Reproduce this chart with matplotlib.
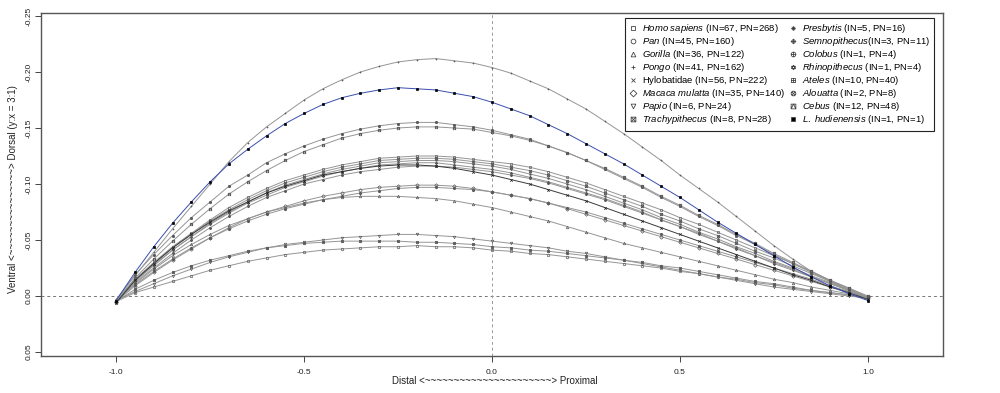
import numpy as np
import matplotlib
matplotlib.use('Agg')
import matplotlib.pyplot as plt
from matplotlib.path import Path
from matplotlib.lines import Line2D

plt.rcParams['font.family'] = ['Liberation Sans', 'DejaVu Sans']
plt.rcParams['mathtext.fontset'] = 'custom'
plt.rcParams['mathtext.rm'] = 'Liberation Sans'
plt.rcParams['mathtext.it'] = 'Liberation Sans:italic'

# landmark positions along the bone (distal -> proximal)
xs = [-1.0, -0.95, -0.9, -0.85, -0.8, -0.75, -0.7, -0.65, -0.6, -0.55,
      -0.5, -0.45, -0.4, -0.35, -0.3, -0.25, -0.2, -0.15, -0.1, -0.05,
      0.0, 0.05, 0.1, 0.15, 0.2, 0.25, 0.3, 0.35, 0.4, 0.45,
      0.5, 0.55, 0.6, 0.65, 0.7, 0.75, 0.8, 0.85, 0.9, 0.95, 1.0]

# mean curvature profiles
homo = [0.004, -0.015, -0.030, -0.044, -0.056, -0.068, -0.079, -0.088, -0.096, -0.103,
        -0.108, -0.113, -0.117, -0.120, -0.123, -0.124, -0.125, -0.125, -0.124, -0.122,
        -0.120, -0.118, -0.115, -0.111, -0.106, -0.101, -0.095, -0.089, -0.083, -0.077,
        -0.070, -0.064, -0.057, -0.050, -0.043, -0.036, -0.029, -0.022, -0.014, -0.007, 0.001]
pan = [0.005, -0.003, -0.008, -0.013, -0.018, -0.023, -0.027, -0.031, -0.034, -0.037,
       -0.039, -0.041, -0.042, -0.043, -0.044, -0.044, -0.045, -0.044, -0.044, -0.043,
       -0.041, -0.040, -0.038, -0.037, -0.035, -0.033, -0.031, -0.029, -0.027, -0.025,
       -0.022, -0.020, -0.017, -0.015, -0.012, -0.010, -0.007, -0.005, -0.003, -0.001, 0.002]
gorilla = [0.004, -0.011, -0.024, -0.036, -0.046, -0.055, -0.063, -0.069, -0.075, -0.079,
           -0.083, -0.086, -0.088, -0.089, -0.089, -0.089, -0.088, -0.087, -0.085, -0.082,
           -0.079, -0.075, -0.071, -0.067, -0.062, -0.057, -0.052, -0.047, -0.043, -0.039,
           -0.035, -0.031, -0.027, -0.023, -0.019, -0.015, -0.012, -0.008, -0.005, -0.002, 0.002]
pongo = [0.003, -0.018, -0.039, -0.060, -0.080, -0.100, -0.120, -0.137, -0.151, -0.163,
         -0.175, -0.185, -0.193, -0.200, -0.205, -0.209, -0.211, -0.212, -0.210, -0.208,
         -0.204, -0.199, -0.192, -0.185, -0.176, -0.167, -0.156, -0.145, -0.133, -0.121,
         -0.108, -0.096, -0.084, -0.071, -0.058, -0.045, -0.033, -0.022, -0.013, -0.005, 0.001]
hylobatidae = [0.006, -0.014, -0.029, -0.043, -0.055, -0.066, -0.076, -0.084, -0.092, -0.098,
               -0.103, -0.108, -0.111, -0.114, -0.116, -0.117, -0.117, -0.116, -0.114, -0.111,
               -0.108, -0.104, -0.100, -0.095, -0.090, -0.085, -0.079, -0.073, -0.067, -0.061,
               -0.055, -0.049, -0.043, -0.037, -0.031, -0.025, -0.019, -0.014, -0.008, -0.003, 0.003]
macaca = [0.005, -0.009, -0.021, -0.032, -0.042, -0.052, -0.061, -0.069, -0.075, -0.080,
          -0.085, -0.089, -0.092, -0.095, -0.097, -0.098, -0.099, -0.099, -0.098, -0.096,
          -0.093, -0.090, -0.087, -0.083, -0.078, -0.073, -0.068, -0.063, -0.058, -0.053,
          -0.048, -0.043, -0.038, -0.033, -0.028, -0.023, -0.018, -0.013, -0.008, -0.004, 0.001]
papio = [0.004, -0.004, -0.011, -0.018, -0.024, -0.030, -0.035, -0.039, -0.043, -0.046,
         -0.048, -0.050, -0.052, -0.053, -0.054, -0.055, -0.055, -0.054, -0.053, -0.051,
         -0.049, -0.047, -0.045, -0.043, -0.040, -0.038, -0.035, -0.032, -0.029, -0.026,
         -0.023, -0.020, -0.017, -0.014, -0.011, -0.008, -0.006, -0.004, -0.002, 0.000, 0.002]
trachypithecus = [0.005, -0.014, -0.029, -0.043, -0.055, -0.067, -0.077, -0.086, -0.094, -0.101,
                  -0.106, -0.111, -0.115, -0.118, -0.121, -0.122, -0.123, -0.123, -0.122, -0.120,
                  -0.118, -0.115, -0.112, -0.108, -0.103, -0.098, -0.092, -0.086, -0.080, -0.073,
                  -0.067, -0.060, -0.054, -0.047, -0.040, -0.034, -0.027, -0.020, -0.013, -0.006, 0.002]
presbytis = [0.004, -0.013, -0.027, -0.041, -0.053, -0.065, -0.075, -0.084, -0.092, -0.099,
             -0.104, -0.109, -0.113, -0.116, -0.119, -0.120, -0.121, -0.121, -0.120, -0.118,
             -0.116, -0.113, -0.109, -0.105, -0.100, -0.095, -0.089, -0.083, -0.077, -0.070,
             -0.064, -0.057, -0.051, -0.044, -0.038, -0.031, -0.025, -0.018, -0.012, -0.005, 0.002]
semnopithecus = [0.005, -0.014, -0.028, -0.041, -0.053, -0.064, -0.074, -0.083, -0.090, -0.097,
                 -0.102, -0.107, -0.111, -0.114, -0.117, -0.118, -0.119, -0.119, -0.117, -0.115,
                 -0.113, -0.110, -0.106, -0.102, -0.097, -0.092, -0.087, -0.081, -0.075, -0.068,
                 -0.062, -0.055, -0.049, -0.042, -0.036, -0.029, -0.023, -0.017, -0.011, -0.005, 0.003]
colobus = [0.004, -0.010, -0.022, -0.033, -0.043, -0.052, -0.060, -0.067, -0.073, -0.078,
           -0.082, -0.086, -0.089, -0.092, -0.094, -0.096, -0.097, -0.097, -0.096, -0.095,
           -0.093, -0.090, -0.087, -0.083, -0.079, -0.075, -0.070, -0.065, -0.060, -0.055,
           -0.050, -0.045, -0.040, -0.035, -0.030, -0.025, -0.020, -0.015, -0.009, -0.004, 0.002]
rhinopithecus = [0.004, -0.012, -0.025, -0.038, -0.050, -0.061, -0.071, -0.080, -0.088, -0.094,
                 -0.100, -0.104, -0.108, -0.111, -0.113, -0.115, -0.116, -0.116, -0.115, -0.113,
                 -0.111, -0.108, -0.105, -0.101, -0.096, -0.091, -0.086, -0.080, -0.074, -0.068,
                 -0.062, -0.056, -0.049, -0.043, -0.036, -0.030, -0.024, -0.017, -0.011, -0.005, 0.002]
ateles = [0.004, -0.019, -0.037, -0.054, -0.070, -0.084, -0.098, -0.108, -0.119, -0.127,
          -0.134, -0.140, -0.145, -0.149, -0.152, -0.154, -0.155, -0.155, -0.153, -0.151,
          -0.148, -0.144, -0.140, -0.134, -0.128, -0.121, -0.113, -0.105, -0.097, -0.088,
          -0.080, -0.071, -0.063, -0.054, -0.046, -0.037, -0.029, -0.021, -0.013, -0.006, 0.001]
alouatta = [0.005, -0.006, -0.014, -0.021, -0.027, -0.032, -0.036, -0.040, -0.043, -0.045,
            -0.047, -0.048, -0.049, -0.049, -0.049, -0.049, -0.048, -0.048, -0.047, -0.046,
            -0.044, -0.043, -0.041, -0.040, -0.038, -0.036, -0.034, -0.032, -0.030, -0.027,
            -0.025, -0.022, -0.019, -0.016, -0.013, -0.011, -0.008, -0.005, -0.003, -0.001, 0.002]
cebus = [0.005, -0.016, -0.033, -0.049, -0.064, -0.078, -0.091, -0.102, -0.112, -0.121,
         -0.129, -0.135, -0.141, -0.145, -0.148, -0.150, -0.151, -0.151, -0.150, -0.149,
         -0.146, -0.143, -0.139, -0.134, -0.128, -0.121, -0.114, -0.106, -0.098, -0.089,
         -0.081, -0.072, -0.064, -0.055, -0.047, -0.038, -0.030, -0.022, -0.014, -0.007, 0.000]
hudienensis = [0.004, -0.021, -0.044, -0.065, -0.084, -0.102, -0.118, -0.131, -0.143, -0.154,
               -0.163, -0.171, -0.177, -0.181, -0.184, -0.186, -0.185, -0.184, -0.181, -0.178,
               -0.173, -0.167, -0.161, -0.153, -0.145, -0.136, -0.127, -0.118, -0.108, -0.098,
               -0.088, -0.077, -0.066, -0.056, -0.046, -0.036, -0.026, -0.017, -0.009, -0.002, 0.004]

curves = [homo, pan, gorilla, pongo, hylobatidae, macaca, papio, trachypithecus,
          presbytis, semnopithecus, colobus, rhinopithecus, ateles, alouatta, cebus, hudienensis]

labels = [r'$\mathit{Homo\ sapiens}$ (IN=67, PN=268)',
          r'$\mathit{Pan}$ (IN=45, PN=160)',
          r'$\mathit{Gorilla}$ (IN=36, PN=122)',
          r'$\mathit{Pongo}$ (IN=41, PN=162)',
          r'$\mathrm{Hylobatidae}$ (IN=56, PN=222)',
          r'$\mathit{Macaca\ mulatta}$ (IN=35, PN=140)',
          r'$\mathit{Papio}$ (IN=6, PN=24)',
          r'$\mathit{Trachypithecus}$ (IN=8, PN=28)',
          r'$\mathit{Presbytis}$ (IN=5, PN=16)',
          r'$\mathit{Semnopithecus}$(IN=3, PN=11)',
          r'$\mathit{Colobus}$ (IN=1, PN=4)',
          r'$\mathit{Rhinopithecus}$ (IN=1, PN=4)',
          r'$\mathit{Ateles}$ (IN=10, PN=40)',
          r'$\mathit{Alouatta}$ (IN=2, PN=8)',
          r'$\mathit{Cebus}$ (IN=12, PN=48)',
          r'$\mathit{L.\ hudienensis}$ (IN=1, PN=1)']


# R-style pch 0..15 symbols
def compound(parts):
    verts = []
    codes = []
    for p in parts:
        verts += p
        codes += [Path.MOVETO] + [Path.LINETO] * (len(p) - 1)
    return Path(verts, codes)

t = np.linspace(0, 2 * np.pi, 25)
circ = list(zip(np.cos(t), np.sin(t)))
sq = [(-1, -1), (1, -1), (1, 1), (-1, 1), (-1, -1)]
dia = [(0, -1.3), (1.3, 0), (0, 1.3), (-1.3, 0), (0, -1.3)]
plus = [[(-1, 0), (1, 0)], [(0, -1), (0, 1)]]
cross = [[(-1, -1), (1, 1)], [(-1, 1), (1, -1)]]
tri_up = [(0, 1.1), (-0.95, -0.55), (0.95, -0.55), (0, 1.1)]
tri_dn = [(0, -1.1), (-0.95, 0.55), (0.95, 0.55), (0, -1.1)]

markers = ['s', 'o', '^', '+', 'x', 'D', 'v',
           compound([sq] + cross),
           compound(plus + [[(-0.7, -0.7), (0.7, 0.7)], [(-0.7, 0.7), (0.7, -0.7)]]),
           compound([dia] + [[(-1.3, 0), (1.3, 0)], [(0, -1.3), (0, 1.3)]]),
           compound([circ] + plus),
           compound([tri_up, tri_dn]),
           compound([sq] + plus),
           compound([circ] + [[(-0.7, -0.7), (0.7, 0.7)], [(-0.7, 0.7), (0.7, -0.7)]]),
           compound([sq, [(-1, -1), (0, 1), (1, -1)]]),
           's']

fig = plt.figure(figsize=(10, 3.93), dpi=100)
ax = fig.add_axes([0.041, 0.094, 0.902, 0.873])

ax.axhline(0, color='#777777', ls=(0, (3, 3)), lw=0.7, zorder=1)
ax.axvline(0, color='#999999', ls=(0, (3, 3)), lw=0.7, zorder=1)

for i, ys in enumerate(curves):
    lc = '#959595'
    mc = '#5a5a5a'
    mfc = 'none'
    z = 2
    if i == 4:
        lc = '#3a3a3a'
        mc = '#222222'
        z = 3
    if i == 15:
        lc = '#3a4fb0'
        mc = 'black'
        mfc = 'black'
        z = 4
    ax.plot(xs, ys, color=lc, lw=0.7, marker=markers[i], ms=1.8, mec=mc, mfc=mfc,
            mew=0.5, zorder=z)

handles = []
for i in range(16):
    handles.append(Line2D([], [], ls='none', marker=markers[i], ms=3.4, mec='#444444',
                          mfc='black' if i == 15 else 'none', mew=0.6))
leg = ax.legend(handles, labels, ncol=2, loc='upper right', bbox_to_anchor=(0.99, 0.985),
                fontsize=6.8, frameon=True, fancybox=False, edgecolor='#222222',
                framealpha=1, handlelength=0.8, handletextpad=0.5, columnspacing=0.5,
                labelspacing=0.0, borderpad=0.45, borderaxespad=0)
leg.get_frame().set_linewidth(0.8)

ax.set_xlim(-1.2, 1.2)
ax.set_ylim(0.0536, -0.2527)
ax.set_xticks([-1.0, -0.5, 0.0, 0.5, 1.0])
ax.set_xticklabels(['-1.0', '-0.5', '0.0', '0.5', '1.0'], fontsize=6)
ax.set_yticks([-0.25, -0.20, -0.15, -0.10, -0.05, 0.00, 0.05])
ax.set_yticklabels(['-0.25', '-0.20', '-0.15', '-0.10', '-0.05', '0.00', '0.05'],
                   fontsize=6, rotation=90, va='center')
ax.tick_params(length=4, width=0.7, color='#444444', labelcolor='#222222')
ax.tick_params(axis='x', pad=5)
ax.tick_params(axis='y', pad=2)
for s in ax.spines.values():
    s.set_color('#555555')
    s.set_linewidth(1.0)

fig.text(0.495, 1 - 381 / 393., 'Distal <' + '~' * 22 + '> Proximal', fontsize=7,
         ha='center', va='center', color='#222222')
fig.text(0.013, 1 - 189 / 393., 'Ventral <' + '~' * 15 + '> Dorsal (y:x = 3:1)', fontsize=7,
         ha='center', va='center', rotation=90, color='#222222')

fig.savefig('out.png', dpi=100)
